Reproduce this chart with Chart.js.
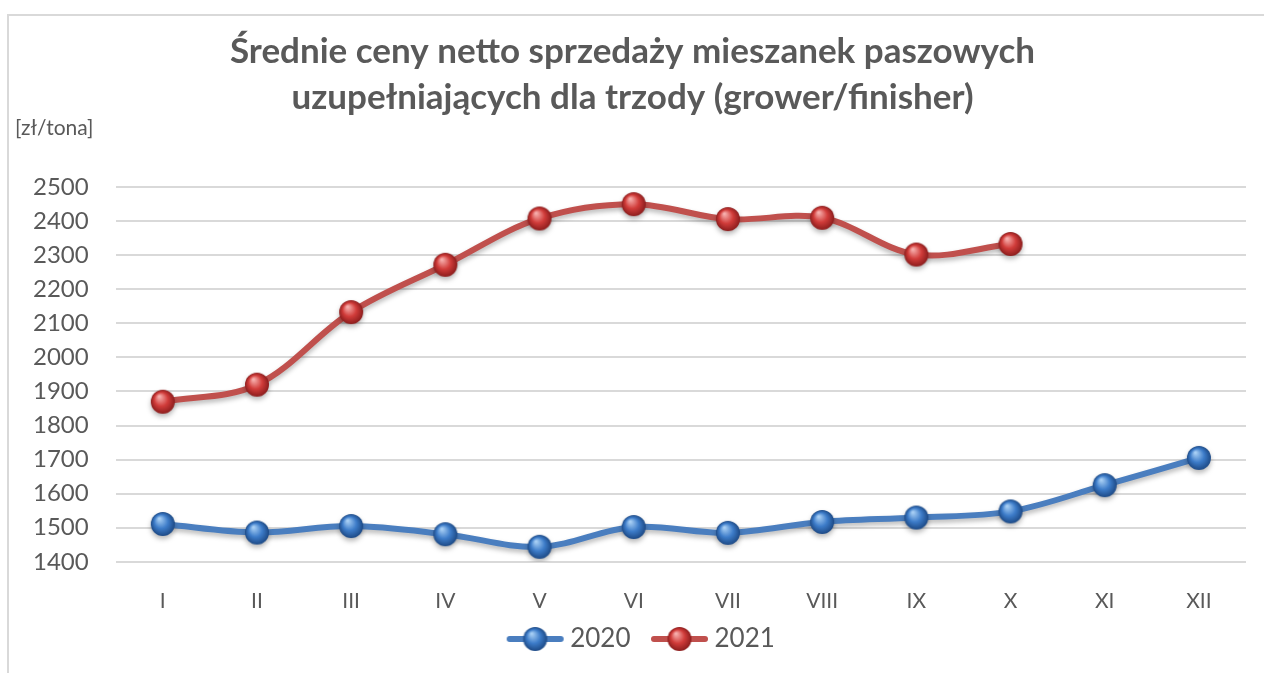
<!DOCTYPE html>
<html>
<head>
<meta charset="utf-8">
<script src="https://cdn.jsdelivr.net/npm/chart.js@4.4.0/dist/chart.umd.min.js"></script>
<style>
  html, body { margin: 0; padding: 0; background: #fff; overflow: hidden; }
  #wrap { position: relative; width: 1264px; height: 673px; overflow: hidden; }
  #frame { position: absolute; left: 7px; top: 14px; width: 1300px; height: 700px; border: 2px solid #d9d9d9; box-sizing: border-box; }
  #chart { position: absolute; left: 0; top: 0; }
</style>
</head>
<body>
<div id="wrap">
  <div id="frame"></div>
  <canvas id="chart" width="1264" height="673"></canvas>
</div>
<script>
const months = ['I', 'II', 'III', 'IV', 'V', 'VI', 'VII', 'VIII', 'IX', 'X', 'XI', 'XII'];
const prices2020 = [1511, 1486, 1505, 1481, 1444, 1502, 1485, 1517, 1530, 1548, 1625, 1705];
const prices2021 = [1870, 1920, 2133, 2272, 2408, 2450, 2406, 2410, 2302, 2333, null, null];
const seriesNames = ['2020', '2021'];
const yMin = 1400, yMax = 2500, yStep = 100;
const unitLabel = '[zł/tona]';

const textColor = '#595959';
const fontFamily = 'Lato, "Open Sans", sans-serif';

// shaded ball used as the point marker
function sphere(r, light, mid, dark) {
  const c = document.createElement('canvas');
  c.width = c.height = 2 * r + 4;
  const ctx = c.getContext('2d');
  const cx = r + 2, cy = r + 2;
  const g = ctx.createRadialGradient(cx - r * 0.3, cy - r * 0.45, r * 0.05, cx, cy, r);
  g.addColorStop(0, light);
  g.addColorStop(0.55, mid);
  g.addColorStop(1, dark);
  ctx.beginPath();
  ctx.arc(cx, cy, r, 0, Math.PI * 2);
  ctx.fillStyle = g;
  ctx.fill();
  return c;
}

// legend marker: short line with a ball, drawn off-centre in a wider canvas
// so the text sits close to it
function legendIcon(color, ball) {
  const c = document.createElement('canvas');
  c.width = 100; c.height = 28;
  const ctx = c.getContext('2d');
  const x0 = 33, x1 = 90;
  ctx.strokeStyle = color;
  ctx.lineWidth = 6;
  ctx.lineCap = 'round';
  ctx.beginPath();
  ctx.moveTo(x0 + 3, 14); ctx.lineTo(x1 - 3, 14);
  ctx.stroke();
  ctx.drawImage(ball, (x0 + x1) / 2 - ball.width / 2, 14 - ball.height / 2);
  return c;
}

const blueBall = sphere(12, '#a9d0f5', '#3d7cc9', '#1d4a86');
const redBall = sphere(12, '#f7b0ae', '#d13c3a', '#8c1d1d');
const icons = [legendIcon('#4a7ebf', blueBall), legendIcon('#c0504d', redBall)];

const extras = {
  id: 'extras',
  beforeDatasetsDraw(chart) {
    chart.ctx.save();
    chart.ctx.shadowColor = 'rgba(0,0,0,0.28)';
    chart.ctx.shadowBlur = 5;
    chart.ctx.shadowOffsetY = 3;
  },
  afterDatasetsDraw(chart) {
    chart.ctx.restore();
  },
  afterDraw(chart) {
    const ctx = chart.ctx;
    ctx.save();
    ctx.fillStyle = textColor;
    ctx.font = '21px ' + fontFamily;
    ctx.textBaseline = 'middle';
    ctx.textAlign = 'left';
    ctx.fillText(unitLabel, 15, 128);
    ctx.restore();
  }
};

new Chart(document.getElementById('chart'), {
  type: 'line',
  data: {
    labels: months,
    datasets: [
      {
        label: seriesNames[0],
        data: prices2020,
        borderColor: '#4a7ebf',
        borderWidth: 6,
        tension: 0.35,
        pointStyle: blueBall,
        pointRadius: 12,
        pointHoverRadius: 12
      },
      {
        label: seriesNames[1],
        data: prices2021,
        borderColor: '#c0504d',
        borderWidth: 6,
        tension: 0.35,
        pointStyle: redBall,
        pointRadius: 12,
        pointHoverRadius: 12
      }
    ]
  },
  options: {
    responsive: false,
    animation: false,
    layout: { padding: { left: 6, right: 5, top: 8, bottom: 11 } },
    plugins: {
      title: {
        display: true,
        text: ['Średnie ceny netto sprzedaży mieszanek paszowych', 'uzupełniających dla trzody (grower/finisher)'],
        color: textColor,
        font: { family: fontFamily, size: 35, weight: 'bold', lineHeight: 1.33 },
        padding: { top: 20, bottom: 66 }
      },
      legend: {
        position: 'bottom',
        labels: {
          usePointStyle: true,
          pointStyleWidth: 67,
          padding: 4,
          color: textColor,
          font: { family: fontFamily, size: 26 },
          generateLabels: chart => chart.data.datasets.map((ds, i) => ({
            text: ds.label,
            pointStyle: icons[i],
            fontColor: textColor,
            fillStyle: 'transparent',
            strokeStyle: 'transparent',
            lineWidth: 0,
            hidden: false,
            datasetIndex: i
          }))
        }
      },
      tooltip: { enabled: false }
    },
    scales: {
      x: {
        offset: true,
        grid: { display: false },
        border: { display: false },
        ticks: { color: textColor, font: { family: fontFamily, size: 21 }, padding: 19 },
        // pull the legend up closer to the month labels
        afterFit: axis => { axis.height -= 11; }
      },
      y: {
        min: yMin,
        max: yMax,
        grid: { color: '#d9d9d9', lineWidth: 2, drawTicks: false },
        border: { display: false },
        ticks: {
          stepSize: yStep,
          color: textColor,
          font: { family: fontFamily, size: 24 },
          padding: 27,
          callback: v => String(v)
        }
      }
    }
  },
  plugins: [extras]
});
</script>
</body>
</html>
